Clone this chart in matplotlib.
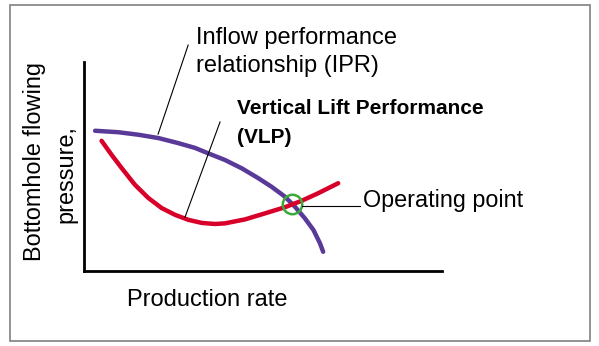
import matplotlib
matplotlib.use("Agg")
import matplotlib.pyplot as plt
from matplotlib.patches import Rectangle

# curves (arbitrary units, axes 0..10)
ipr_x = [0.31, 0.96, 1.52, 2.08, 2.63, 3.10, 3.47, 3.94, 4.41, 4.87, 5.24, 5.61, 5.89, 6.17, 6.41, 6.59, 6.68]
ipr_y = [6.71, 6.64, 6.52, 6.36, 6.12, 5.89, 5.63, 5.31, 4.91, 4.44, 4.03, 3.56, 3.08, 2.52, 1.96, 1.33, 0.92]

vlp_x = [0.49, 0.77, 1.05, 1.42, 1.80, 2.17, 2.54, 2.91, 3.29, 3.66, 3.94, 4.50, 5.06, 5.61, 6.08, 6.54, 7.10]
vlp_y = [6.23, 5.56, 4.93, 4.13, 3.49, 3.01, 2.69, 2.45, 2.30, 2.25, 2.28, 2.47, 2.76, 3.05, 3.36, 3.72, 4.20]

op_x, op_y = 5.80, 3.21

font = 'Liberation Sans'

fig = plt.figure(figsize=(5.99, 3.46), dpi=100)
fig.patches.append(Rectangle((10/599, 5/346), 580/599, 336/346, transform=fig.transFigure,
                             fill=False, edgecolor='#808080', lw=1.2))

ax = fig.add_axes([84/599, 75/346, 358/599, 209/346])
ax.set_xlim(0, 10)
ax.set_ylim(0, 10)
ax.set_xticks([])
ax.set_yticks([])
for s in ['top', 'right']:
    ax.spines[s].set_visible(False)
for s in ['left', 'bottom']:
    ax.spines[s].set_linewidth(2)

ax.plot(ipr_x, ipr_y, color='#5a3a98', lw=3.2, solid_capstyle='round', solid_joinstyle='round')
ax.plot(vlp_x, vlp_y, color='#d8002a', lw=3.2, solid_capstyle='round', solid_joinstyle='round')
ax.plot(op_x, op_y, 'o', ms=14, mfc='none', mec='#3aaa3a', mew=1.8)

# leader lines
ax.plot([2.07, 2.91], [6.55, 10.81], color='black', lw=0.8, clip_on=False)
ax.plot([2.82, 3.80], [2.57, 7.13], color='black', lw=0.8, clip_on=False)
ax.plot([6.09, 7.71], [3.11, 3.11], color='black', lw=0.8, clip_on=False)

ax.text(3.13, 10.86, 'Inflow performance', family=font, fontsize=17, va='baseline')
ax.text(3.13, 9.52, 'relationship (IPR)', family=font, fontsize=17, va='baseline')
ax.text(4.27, 7.51, 'Vertical Lift Performance', family=font, fontweight='bold',
        fontsize=15, va='baseline')
ax.text(4.27, 6.12, '(VLP)', family=font, fontweight='bold', fontsize=15, va='baseline')
ax.text(7.79, 3.06, 'Operating point', family=font, fontsize=16.8, va='baseline')

ax.text(1.20, -1.67, 'Production rate', family=font, fontsize=17, va='baseline')
ax.text(-1.37, 5.26, 'Bottomhole flowing', family=font, fontsize=16.9, rotation=90,
        ha='center', va='center')
ax.text(-0.50, 4.64, 'pressure,', family=font, fontsize=16.9, rotation=90,
        ha='center', va='center')

fig.savefig('out.png', dpi=100)
